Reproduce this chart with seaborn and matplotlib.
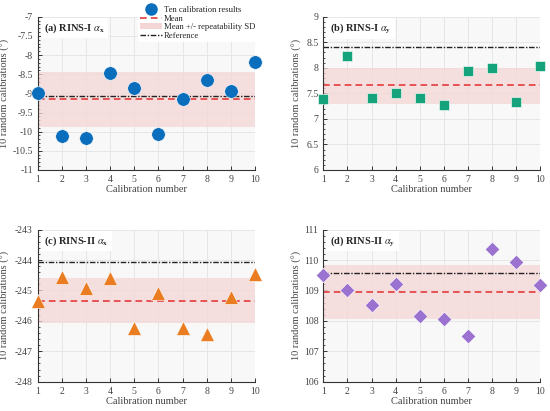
import numpy as np
import pandas as pd
import seaborn as sns
import matplotlib.pyplot as plt
from matplotlib.lines import Line2D
from matplotlib.patches import Patch
from matplotlib.ticker import MultipleLocator

calib = list(range(1, 11))

rins1_ax = [-9.00, -10.11, -10.17, -8.46, -8.87, -10.07, -9.16, -8.66, -8.93, -8.18]
rins1_ay = [7.39, 8.23, 7.41, 7.51, 7.41, 7.27, 7.94, 8.00, 7.34, 8.04]
rins2_ax = [-245.34, -244.55, -244.91, -244.58, -246.22, -245.10, -246.25, -246.43, -245.23, -244.47]
rins2_ay = [109.52, 109.03, 108.52, 109.22, 108.17, 108.06, 107.51, 110.35, 109.94, 109.17]

means = [-9.16, 7.66, -245.34, 108.95]
refs = [-9.07, 8.40, -244.07, 109.57]
sd_low = [-9.88, 7.30, -246.08, 108.06]
sd_high = [-8.44, 8.00, -244.58, 109.83]

titles = [r'(a) RINS-I $\alpha_{\mathbf{x}}$', r'(b) RINS-I $\alpha_{\mathbf{y}}$',
          r'(c) RINS-II $\alpha_{\mathbf{x}}$', r'(d) RINS-II $\alpha_{\mathbf{y}}$']
ylims = [(-11, -7), (6, 9), (-248, -243), (106, 111)]
major = [0.5, 0.5, 1, 1]
minor = [0.1, 0.1, 0.2, 0.2]
colors = ['#0a6ebd', '#14a37a', '#ea7d22', '#9b72cf']
markers = ['o', 's', '^', 'D']
msizes = [95, 60, 100, 55]

sns.set_theme(style='whitegrid')
plt.rcParams['font.family'] = ['Liberation Serif', 'DejaVu Serif']
plt.rcParams['mathtext.fontset'] = 'stix'
plt.rcParams['axes.unicode_minus'] = False

fig = plt.figure(figsize=(5.5, 4.11), dpi=100)
positions = [[0.0685, 0.5864, 0.395, 0.373],
             [0.588, 0.5864, 0.394, 0.373],
             [0.0685, 0.0713, 0.395, 0.370],
             [0.588, 0.0713, 0.394, 0.370]]
label_x = [-0.128, -0.098, -0.128, -0.098]

series = [rins1_ax, rins1_ay, rins2_ax, rins2_ay]

for i in range(4):
    ax = fig.add_axes(positions[i])
    ax.set_facecolor('#f8f8f8')
    df = pd.DataFrame({'n': calib, 'v': series[i]})
    ax.axhspan(sd_low[i], sd_high[i], color='#f4d6d6', alpha=0.75, lw=0, zorder=1)
    ax.axhline(means[i], color='#e33b3b', ls=(0, (4, 2.5)), lw=1.2, zorder=2)
    ax.axhline(refs[i], color='#222222', ls=(0, (4, 1.2, 1, 1.2)), lw=1.0, zorder=2)
    sns.scatterplot(data=df, x='n', y='v', ax=ax, color=colors[i], marker=markers[i],
                    s=msizes[i], edgecolor='white', linewidth=0.4, zorder=3, clip_on=False)
    ax.set_xlim(1, 10)
    ax.set_ylim(*ylims[i])
    ax.set_xticks(calib)
    ax.yaxis.set_major_locator(MultipleLocator(major[i]))
    ax.yaxis.set_minor_locator(MultipleLocator(minor[i]))
    ax.yaxis.set_major_formatter(plt.FuncFormatter(lambda v, p: '%g' % v))
    ax.grid(True, which='major', color='#e6e6e6', lw=0.7)
    for s in ['top', 'right']:
        ax.spines[s].set_visible(False)
    for s in ['left', 'bottom']:
        ax.spines[s].set_color('#333333')
        ax.spines[s].set_linewidth(0.8)
    ax.tick_params(axis='both', which='both', direction='in', colors='#333333',
                   labelcolor='#444444', labelsize=7, pad=3.5)
    ax.tick_params(axis='both', which='major', length=3, width=0.7, left=True, bottom=True)
    ax.tick_params(axis='y', which='minor', length=1.5, width=0.6, left=True)
    ax.set_xlabel('Calibration number', fontsize=7.5, color='#444444', labelpad=1)
    ax.set_ylabel('10 random calibrations (°)', fontsize=7.5, color='#444444')
    ax.yaxis.set_label_coords(label_x[i], 0.5)
    ax.text(0.03, 0.925, titles[i], transform=ax.transAxes, fontsize=7.5, fontweight='bold',
            va='center', ha='left', zorder=5,
            bbox=dict(facecolor='white', edgecolor='none', pad=2.5))

handles = [Line2D([], [], marker='o', color=colors[0], ls='none', markersize=8),
           Line2D([], [], color='#e33b3b', ls=(0, (4, 2.5)), lw=1.2),
           Patch(facecolor='#f4d6d6', edgecolor='none'),
           Line2D([], [], color='#222222', ls=(0, (4, 1.2, 1, 1.2)), lw=1.0)]
labels = ['Ten calibration results', 'Mean', 'Mean +/- repeatability SD', 'Reference']
fig.legend(handles, labels, loc='upper left', bbox_to_anchor=(0.243, 1.0), fontsize=6.2,
           frameon=True, facecolor='white', edgecolor='none', framealpha=1,
           handlelength=2.6, handletextpad=0.2, labelspacing=0.08, borderpad=0.2)

fig.savefig('out.png', dpi=100)
